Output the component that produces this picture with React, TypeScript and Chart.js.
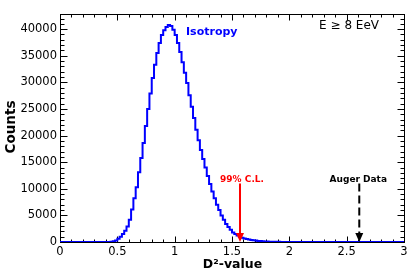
import React, { useEffect, useRef } from 'react';
import { Chart, registerables } from 'chart.js';

Chart.register(...registerables);

// ---- data ----
const binStart = 0;
const binWidth = 0.02;
const binCounts = [
  0, 0, 0, 0, 0, 0, 0, 0, 0, 0, 0, 0, 0, 0, 0, 0, 0, 0, 0, 0, 0, 0,
  50, 150, 300, 600, 1000, 1500, 2100, 2900, 4200, 6100,
  8200, 10300, 13100, 15800, 18600, 21800, 25000, 27900, 30800, 33300,
  35500, 37400, 38900, 39800, 40400, 40800, 40600, 39900, 38900, 37400,
  35700, 33800, 31800, 29900, 27600, 25400, 23300, 21100, 19100, 17300,
  15600, 14000, 12400, 10900, 9500, 8200, 7000, 6000, 5000, 4200,
  3400, 2800, 2300, 1800, 1500, 1200, 950, 800, 650, 550,
  450, 380, 320, 260, 210, 170, 140, 110, 90, 70,
  55, 45, 35, 28, 22, 18, 14, 11, 9, 7,
  5, 4, 3, 3, 2, 2, 1, 1, 1,
  0, 0, 0, 0, 0, 0, 0, 0, 0, 0, 0, 0, 0, 0, 0, 0, 0, 0, 0, 0,
  0, 0, 0, 0, 0, 0, 0, 0, 0, 0, 0, 0, 0, 0, 0, 0, 0, 0, 0,
];
const xTickValues = [0, 0.5, 1, 1.5, 2, 2.5, 3];
const yTickValues = [0, 5000, 10000, 15000, 20000, 25000, 30000, 35000, 40000];
const xMin = 0;
const xMax = 3;
const yMax = 42850;
const clLevel = 1.57; // 99% C.L.
const augerValue = 2.61; // Auger data
const arrowTopCount = 11000;

const FONT = '"DejaVu Sans", "Liberation Sans", sans-serif';

function crisp(v: number) {
  return Math.round(v) + 0.5;
}

function drawArrow(ctx: CanvasRenderingContext2D, px: number, yTop: number, yBot: number, color: string, dashed: boolean) {
  ctx.save();
  ctx.strokeStyle = color;
  ctx.fillStyle = color;
  ctx.lineWidth = 2;
  if (dashed) ctx.setLineDash([8, 4]);
  ctx.beginPath();
  ctx.moveTo(px, yTop);
  ctx.lineTo(px, yBot - 8);
  ctx.stroke();
  ctx.setLineDash([]);
  ctx.beginPath();
  ctx.moveTo(px - 4, yBot - 9);
  ctx.lineTo(px + 4, yBot - 9);
  ctx.lineTo(px, yBot);
  ctx.closePath();
  ctx.fill();
  ctx.restore();
}

const decorPlugin = {
  id: 'decor',
  beforeDatasetsDraw(chart: any) {
    const { ctx, chartArea: a, scales } = chart;
    const x = scales.x;
    const y = scales.y;
    ctx.save();
    ctx.strokeStyle = '#000';
    ctx.lineWidth = 1;
    const L = crisp(a.left);
    const R = crisp(a.right);
    const T = crisp(a.top);
    const B = crisp(a.bottom);
    ctx.strokeRect(L, T, R - L, B - T);
    ctx.beginPath();
    for (let k = 0; k <= 30; k++) {
      const px = crisp(x.getPixelForValue(k / 10));
      const len = k % 5 === 0 ? 6 : 3;
      ctx.moveTo(px, B);
      ctx.lineTo(px, B - len);
      ctx.moveTo(px, T);
      ctx.lineTo(px, T + len);
    }
    for (let k = 0; k * 1000 <= yMax; k++) {
      const py = crisp(y.getPixelForValue(k * 1000));
      const len = k % 5 === 0 ? 7 : 4;
      ctx.moveTo(L, py);
      ctx.lineTo(L + len, py);
      ctx.moveTo(R, py);
      ctx.lineTo(R - len, py);
    }
    ctx.stroke();
    ctx.restore();
  },
  afterDatasetsDraw(chart: any) {
    const { ctx, chartArea: a, scales } = chart;
    const x = scales.x;
    const y = scales.y;
    const y0 = y.getPixelForValue(0);
    const yTop = y.getPixelForValue(arrowTopCount);

    const pxCL = x.getPixelForValue(clLevel);
    drawArrow(ctx, pxCL, yTop, y0, '#ff0000', false);
    const pxA = x.getPixelForValue(augerValue);
    drawArrow(ctx, pxA, yTop, y0, '#000000', true);

    ctx.save();
    ctx.textBaseline = 'alphabetic';
    ctx.textAlign = 'center';
    ctx.font = `bold 9px ${FONT}`;
    ctx.fillStyle = '#ff0000';
    ctx.fillText('99% C.L.', pxCL + 2, yTop - 1.5);
    ctx.fillStyle = '#000';
    ctx.fillText('Auger Data', pxA - 1, yTop - 1.5);

    ctx.textAlign = 'left';
    ctx.font = `bold 11px ${FONT}`;
    ctx.fillStyle = '#0000ff';
    ctx.fillText('Isotropy', 186, 35);

    ctx.textAlign = 'right';
    ctx.font = `12px ${FONT}`;
    ctx.fillStyle = '#000';
    ctx.fillText('E \u2265 8 EeV', 379, 29);

    // axis titles
    ctx.font = `bold 12.5px ${FONT}`;
    ctx.textAlign = 'center';
    ctx.fillText('D\u00B2-value', 232.5, 268);

    ctx.save();
    ctx.translate(14.5, 127);
    ctx.rotate(-Math.PI / 2);
    ctx.font = `bold 13.5px ${FONT}`;
    ctx.textAlign = 'center';
    ctx.fillText('Counts', 0, 0);
    ctx.restore();

    ctx.restore();
  },
};

export default function App() {
  const canvasRef = useRef<HTMLCanvasElement | null>(null);

  useEffect(() => {
    const canvas = canvasRef.current;
    if (!canvas) return;

    const points = binCounts.map((c, i) => ({ x: binStart + i * binWidth, y: c }));
    points.push({ x: binStart + binCounts.length * binWidth, y: binCounts[binCounts.length - 1] });

    const chart = new Chart(canvas, {
      type: 'line',
      data: {
        datasets: [
          {
            data: points,
            stepped: 'before',
            borderColor: '#0000ff',
            borderWidth: 2,
            pointRadius: 0,
            fill: false,
          },
        ],
      },
      options: {
        responsive: false,
        animation: false,
        devicePixelRatio: 1,
        layout: { padding: { top: 14, right: 16, left: 0, bottom: 0 } },
        plugins: {
          legend: { display: false },
          tooltip: { enabled: false },
        },
        scales: {
          x: {
            type: 'linear',
            min: xMin,
            max: xMax,
            grid: { display: false, drawTicks: false },
            border: { display: false },
            afterBuildTicks: (s: any) => {
              s.ticks = xTickValues.map((v) => ({ value: v }));
            },
            afterFit: (s: any) => {
              s.height = 31;
            },
            ticks: {
              autoSkip: false,
              maxRotation: 0,
              padding: 3,
              color: '#000',
              font: { family: FONT, size: 11.5 },
              callback: (v: any) => String(v),
            },
          },
          y: {
            type: 'linear',
            min: 0,
            max: yMax,
            grid: { display: false, drawTicks: false },
            border: { display: false },
            afterBuildTicks: (s: any) => {
              s.ticks = yTickValues.map((v) => ({ value: v }));
            },
            afterFit: (s: any) => {
              s.width = 60;
            },
            ticks: {
              autoSkip: false,
              padding: 3,
              color: '#000',
              font: { family: FONT, size: 11.5 },
              callback: (v: any) => String(v),
            },
          },
        },
      },
      plugins: [decorPlugin],
    } as any);

    return () => chart.destroy();
  }, []);

  return (
    <div style={{ position: 'absolute', left: 0, top: 0, width: 420, height: 273, background: '#fff' }}>
      <canvas ref={canvasRef} width={420} height={273} style={{ display: 'block' }} />
    </div>
  );
}
